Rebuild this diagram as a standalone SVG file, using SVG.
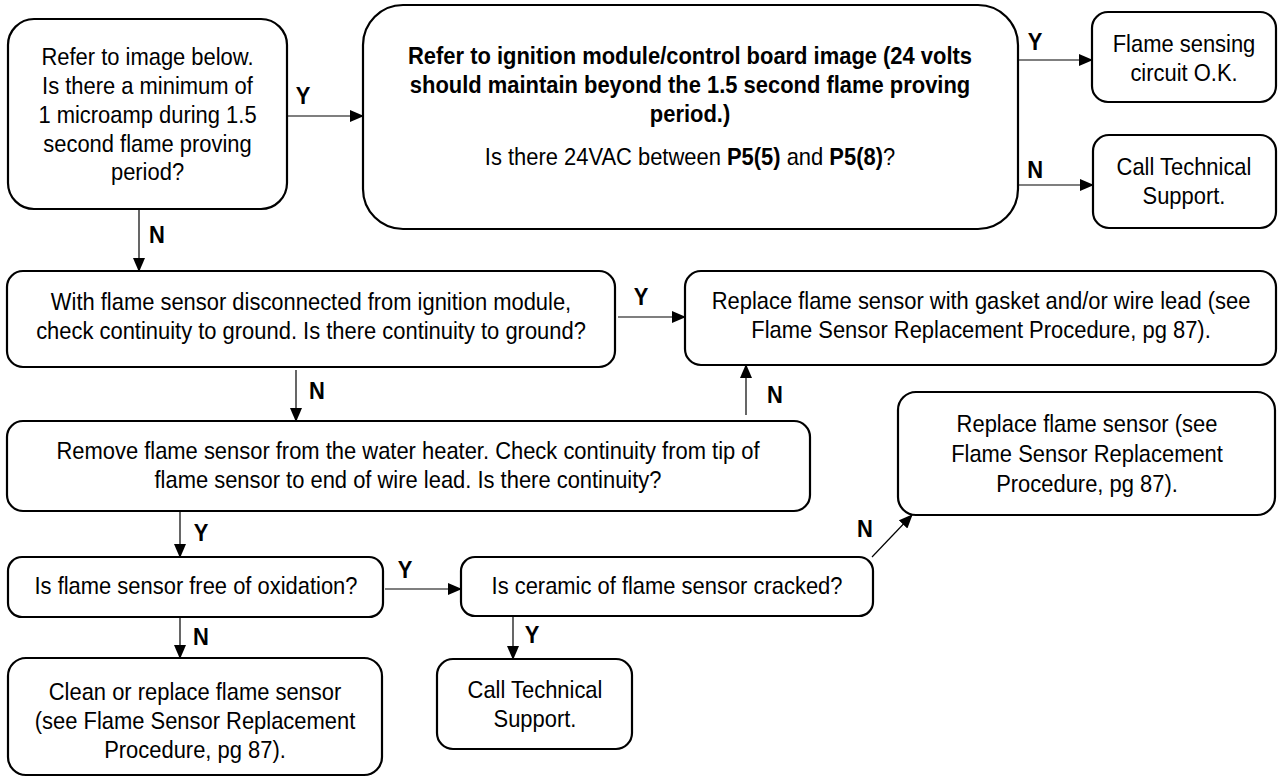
<svg xmlns="http://www.w3.org/2000/svg" width="1278" height="779" viewBox="0 0 1278 779">
<style>
.box{fill:#fff;stroke:#000;stroke-width:2.2}
.t{font-family:"Liberation Sans",Arial,sans-serif;font-size:23.6px;fill:#000;text-anchor:middle}
.b{font-weight:bold}
.lbl{font-family:"Liberation Sans",Arial,sans-serif;font-size:23.6px;font-weight:bold;fill:#000;text-anchor:middle}
.c{fill:none;stroke:#000;stroke-width:1.2}
</style>
<defs>
<marker id="ah" markerUnits="userSpaceOnUse" markerWidth="14" markerHeight="12" refX="13" refY="6" orient="auto">
<path d="M0,0 L14,6 L0,12 Z" fill="#000"/>
</marker>
</defs>
<rect width="1278" height="779" fill="#fff"/>
<g id="connectors">
<line class="c" x1="287" y1="116" x2="363" y2="116" marker-end="url(#ah)"/>
<line class="c" x1="1018" y1="60" x2="1092" y2="60" marker-end="url(#ah)"/>
<line class="c" x1="1018" y1="185" x2="1093" y2="185" marker-end="url(#ah)"/>
<line class="c" x1="139" y1="209" x2="139" y2="271" marker-end="url(#ah)"/>
<line class="c" x1="618" y1="317" x2="685" y2="317" marker-end="url(#ah)"/>
<line class="c" x1="296" y1="370" x2="296" y2="421" marker-end="url(#ah)"/>
<line class="c" x1="746" y1="415" x2="746" y2="365" marker-end="url(#ah)"/>
<line class="c" x1="180" y1="511" x2="180" y2="557" marker-end="url(#ah)"/>
<line class="c" x1="180" y1="617" x2="180" y2="658" marker-end="url(#ah)"/>
<line class="c" x1="385" y1="589" x2="461" y2="589" marker-end="url(#ah)"/>
<line class="c" x1="872" y1="557" x2="912" y2="515" marker-end="url(#ah)"/>
<line class="c" x1="513" y1="616" x2="513" y2="659" marker-end="url(#ah)"/>
<g transform="scale(0.93 1)">
<text class="lbl" x="325.8" y="104">Y</text>
<text class="lbl" x="1113" y="50">Y</text>
<text class="lbl" x="1113" y="178">N</text>
<text class="lbl" x="168.8" y="243">N</text>
<text class="lbl" x="689.2" y="305">Y</text>
<text class="lbl" x="340.9" y="399">N</text>
<text class="lbl" x="833.3" y="403">N</text>
<text class="lbl" x="216.1" y="541">Y</text>
<text class="lbl" x="216.1" y="645">N</text>
<text class="lbl" x="435.5" y="578">Y</text>
<text class="lbl" x="930.1" y="537">N</text>
<text class="lbl" x="572" y="643">Y</text>
</g>
</g>
<g id="n1">
<rect class="box" x="8" y="19" width="279" height="190" rx="26"/>
<g transform="translate(147.5 0) scale(0.93 1)">
<text class="t" x="0" y="65">Refer to image below.</text>
<text class="t" x="0" y="94">Is there a minimum of</text>
<text class="t" x="0" y="123">1 microamp during 1.5</text>
<text class="t" x="0" y="152">second flame proving</text>
<text class="t" x="0" y="180">period?</text>
</g>
</g>
<g id="n2">
<rect class="box" x="363" y="5" width="655" height="224" rx="40"/>
<g transform="translate(690 0) scale(0.93 1)">
<text class="t b" x="0" y="64">Refer to ignition module/control board image (24 volts</text>
<text class="t b" x="0" y="93">should maintain beyond the 1.5 second flame proving</text>
<text class="t b" x="0" y="122">period.)</text>
<text class="t" x="0" y="165">Is there 24VAC between <tspan class="b">P5(5)</tspan> and <tspan class="b">P5(8)</tspan>?</text>
</g>
</g>
<g id="n3">
<rect class="box" x="1092" y="12" width="184" height="90" rx="16"/>
<g transform="translate(1184 0) scale(0.93 1)">
<text class="t" x="0" y="52">Flame sensing</text>
<text class="t" x="0" y="81">circuit O.K.</text>
</g>
</g>
<g id="n4">
<rect class="box" x="1093" y="135" width="183" height="93" rx="16"/>
<g transform="translate(1184 0) scale(0.93 1)">
<text class="t" x="0" y="175">Call Technical</text>
<text class="t" x="0" y="204">Support.</text>
</g>
</g>
<g id="n5">
<rect class="box" x="7" y="271" width="608" height="96" rx="16"/>
<g transform="translate(311 0) scale(0.93 1)">
<text class="t" x="0" y="310">With flame sensor disconnected from ignition module,</text>
<text class="t" x="0" y="339">check continuity to ground. Is there continuity to ground?</text>
</g>
</g>
<g id="n6">
<rect class="box" x="685" y="271" width="591" height="94" rx="16"/>
<g transform="translate(981 0) scale(0.93 1)">
<text class="t" x="0" y="309">Replace flame sensor with gasket and/or wire lead (see</text>
<text class="t" x="0" y="338">Flame Sensor Replacement Procedure, pg 87).</text>
</g>
</g>
<g id="n7">
<rect class="box" x="7" y="421" width="803" height="90" rx="16"/>
<g transform="translate(408 0) scale(0.93 1)">
<text class="t" x="0" y="459">Remove flame sensor from the water heater. Check continuity from tip of</text>
<text class="t" x="0" y="488">flame sensor to end of wire lead. Is there continuity?</text>
</g>
</g>
<g id="n8">
<rect class="box" x="898" y="392" width="377" height="123" rx="18"/>
<g transform="translate(1087 0) scale(0.93 1)">
<text class="t" x="0" y="432">Replace flame sensor (see</text>
<text class="t" x="0" y="462">Flame Sensor Replacement</text>
<text class="t" x="0" y="492">Procedure, pg 87).</text>
</g>
</g>
<g id="n9">
<rect class="box" x="8" y="557" width="375" height="60" rx="14"/>
<g transform="translate(196 0) scale(0.93 1)">
<text class="t" x="0" y="594">Is flame sensor free of oxidation?</text>
</g>
</g>
<g id="n10">
<rect class="box" x="461" y="557" width="412" height="59" rx="14"/>
<g transform="translate(667 0) scale(0.93 1)">
<text class="t" x="0" y="594">Is ceramic of flame sensor cracked?</text>
</g>
</g>
<g id="n11">
<rect class="box" x="8" y="658" width="374" height="117" rx="18"/>
<g transform="translate(195 0) scale(0.93 1)">
<text class="t" x="0" y="700">Clean or replace flame sensor</text>
<text class="t" x="0" y="729">(see Flame Sensor Replacement</text>
<text class="t" x="0" y="758">Procedure, pg 87).</text>
</g>
</g>
<g id="n12">
<rect class="box" x="437" y="659" width="195" height="90" rx="16"/>
<g transform="translate(535 0) scale(0.93 1)">
<text class="t" x="0" y="698">Call Technical</text>
<text class="t" x="0" y="727">Support.</text>
</g>
</g>
</svg>
